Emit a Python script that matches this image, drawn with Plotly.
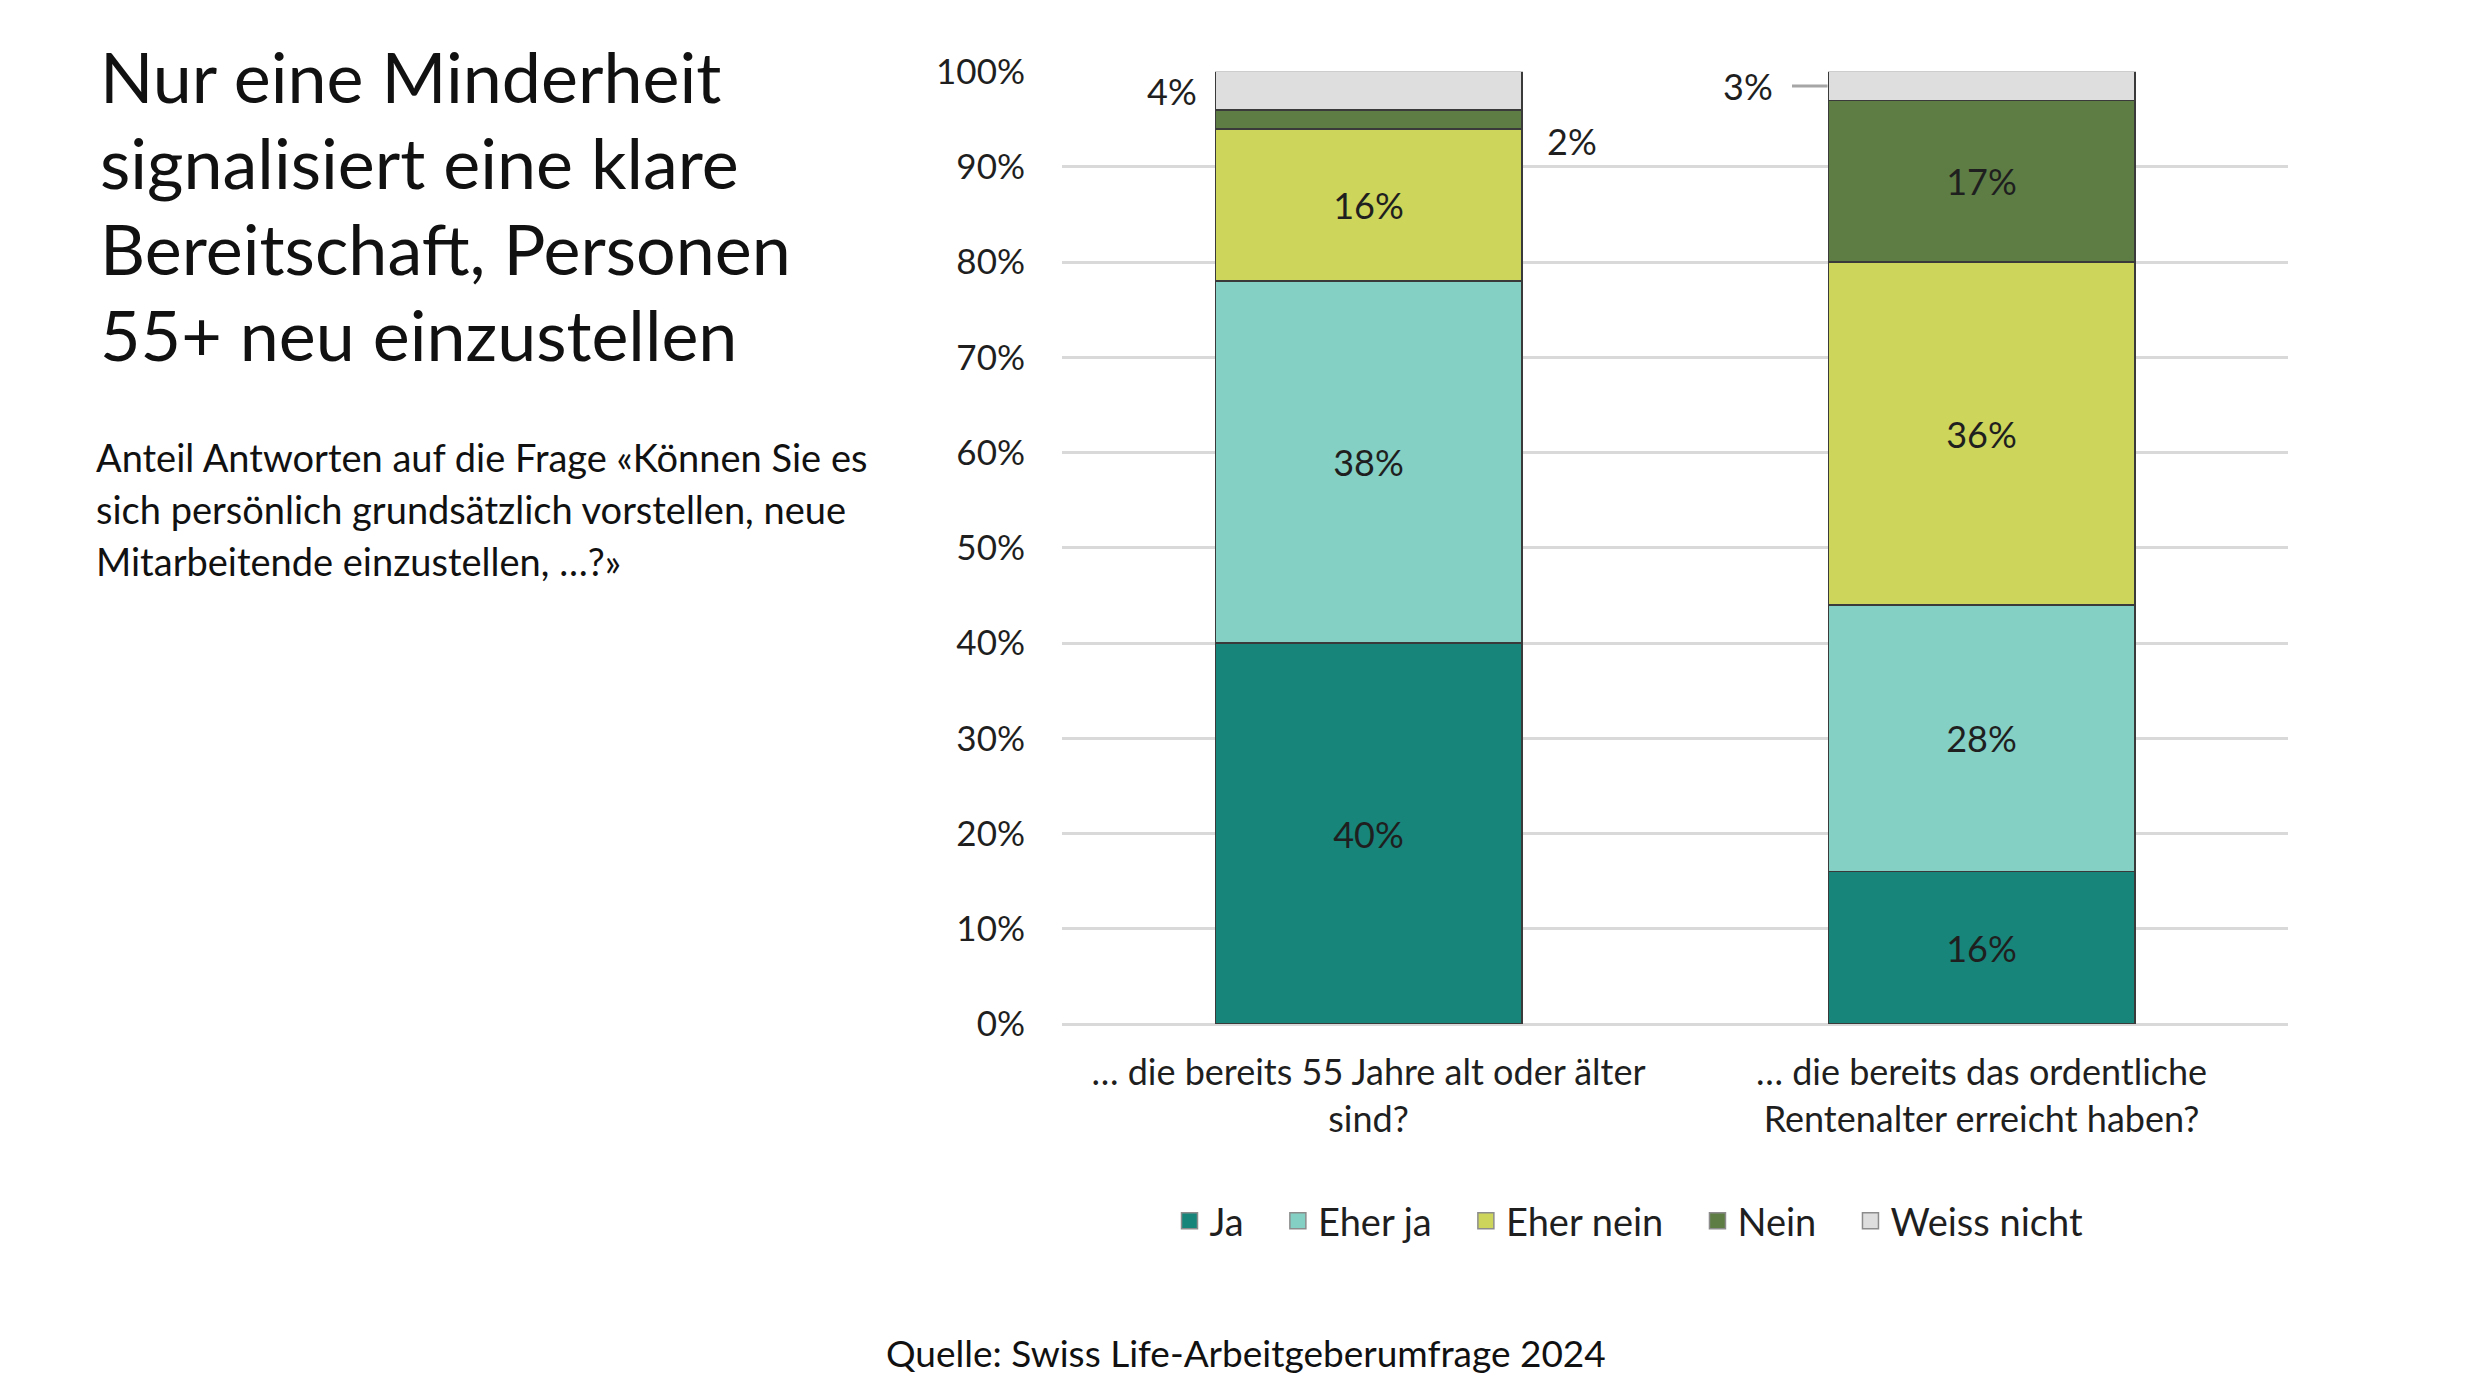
import plotly.graph_objects as go

# Survey question categories (x axis)
categories = [
    "… die bereits 55 Jahre alt oder älter<br>sind?",
    "… die bereits das ordentliche<br>Rentenalter erreicht haben?",
]

# Answer shares in percent, bottom to top
ja = [40, 16]
eher_ja = [38, 28]
eher_nein = [16, 36]
nein = [2, 17]
weiss_nicht = [4, 3]

series_names = ["Ja", "Eher ja", "Eher nein", "Nein", "Weiss nicht"]
series_values = [ja, eher_ja, eher_nein, nein, weiss_nicht]
series_colors = ["#17857A", "#84D0C4", "#CDD55A", "#5E7D45", "#DEDEDE"]

y_ticks = [0, 10, 20, 30, 40, 50, 60, 70, 80, 90, 100]
y_tick_labels = [f"{v}%" for v in y_ticks]

title_lines = [
    "Nur eine Minderheit",
    "signalisiert eine klare",
    "Bereitschaft, Personen",
    "55+ neu einzustellen",
]
subtitle_lines = [
    "Anteil Antworten auf die Frage «Können Sie es",
    "sich persönlich grundsätzlich vorstellen, neue",
    "Mitarbeitende einzustellen, …?»",
]
source_text = "Quelle: Swiss Life-Arbeitgeberumfrage 2024"

FONT = "Lato, 'Open Sans', sans-serif"
TEXT_COLOR = "#1f1f1f"
W, H = 2480, 1395

fig = go.Figure()

for name, vals, color in zip(series_names, series_values, series_colors):
    # small shares get their labels outside the bar (annotations below)
    labels = [f"{v}%" if v >= 10 else "" for v in vals]
    fig.add_trace(go.Bar(
        x=categories,
        y=vals,
        name=name,
        showlegend=False,
        marker=dict(color=color, line=dict(color="#3a3a3a", width=1.5)),
        text=labels,
        textposition="inside",
        insidetextanchor="middle",
        textangle=0,
        textfont=dict(family=FONT, size=36, color=TEXT_COLOR),
        hoverinfo="skip",
    ))

# legend entries with bigger square swatches than the bar default;
# trailing no-break spaces widen the gap after each entry like the original
for i, (name, color) in enumerate(zip(series_names, series_colors)):
    pad = "\u00a0" * 3 if i < len(series_names) - 1 else ""
    fig.add_trace(go.Scatter(
        x=[None], y=[None], mode="markers", name=name + pad,
        marker=dict(symbol="square", size=16, color=color,
                    line=dict(color="#8c8c8c", width=1.5)),
        hoverinfo="skip",
    ))

# Outside labels for the thin segments: (series index, category index, side, y shift, leader line)
outside_labels = [
    (4, 0, "left", 0, False),
    (3, 0, "right", -22, False),
    (4, 1, "left", 0, True),
]
half_bar_px = 153

for s_idx, c_idx, side, yshift, leader in outside_labels:
    below = sum(series_values[i][c_idx] for i in range(s_idx))
    val = series_values[s_idx][c_idx]
    y_mid = below + val / 2
    label = f"{val}%"
    if leader:
        fig.add_annotation(
            x=categories[c_idx], y=y_mid, xref="x", yref="y",
            xshift=-(half_bar_px + 1), text=label,
            showarrow=True, arrowhead=0, arrowwidth=3, arrowcolor="#A6A6A6",
            ax=-80, ay=0, startstandoff=18,
            font=dict(family=FONT, size=36, color=TEXT_COLOR),
        )
    else:
        shift = -(half_bar_px + 17) if side == "left" else (half_bar_px + 23)
        fig.add_annotation(
            x=categories[c_idx], y=y_mid, xref="x", yref="y",
            xshift=shift, yshift=yshift, text=label, showarrow=False,
            xanchor="right" if side == "left" else "left",
            font=dict(family=FONT, size=36, color=TEXT_COLOR),
        )

# Title and subtitle, one annotation per line to control the line spacing
for i, line in enumerate(title_lines):
    fig.add_annotation(
        x=98 / W, y=1 - (76 + i * 86) / H, xref="paper", yref="paper",
        text=line, showarrow=False, xanchor="left", yanchor="middle",
        font=dict(family=FONT, size=70, color="#111111"),
    )
for i, line in enumerate(subtitle_lines):
    fig.add_annotation(
        x=94 / W, y=1 - (457 + i * 52) / H, xref="paper", yref="paper",
        text=line, showarrow=False, xanchor="left", yanchor="middle",
        font=dict(family=FONT, size=38, color="#111111"),
    )
fig.add_annotation(
    x=1246 / W, y=1 - 1352 / H, xref="paper", yref="paper",
    text=source_text, showarrow=False, xanchor="center", yanchor="middle",
    font=dict(family=FONT, size=37, color="#111111"),
)

fig.update_layout(
    width=W,
    height=H,
    barmode="stack",
    bargap=0.5,
    plot_bgcolor="white",
    paper_bgcolor="white",
    margin=dict(l=0, r=0, t=0, b=0, autoexpand=False),
    font=dict(family=FONT, size=36, color=TEXT_COLOR),
    showlegend=True,
    legend=dict(
        orientation="h",
        x=1629 / W, y=1 - 1221 / H,
        xanchor="center", yanchor="middle",
        traceorder="normal",
        itemwidth=30,
        font=dict(family=FONT, size=38, color=TEXT_COLOR),
    ),
    xaxis=dict(
        domain=[1062 / W, 2288 / W],
        range=[-0.5, 1.5],
        automargin=False,
        showgrid=False,
        showline=False,
        ticks="",
        ticklabelstandoff=24,
        tickfont=dict(family=FONT, size=36, color=TEXT_COLOR),
        fixedrange=True,
    ),
    yaxis=dict(
        domain=[1 - 1024 / H, 1 - 71.7 / H],
        range=[0, 100],
        automargin=False,
        tickvals=y_ticks,
        ticktext=y_tick_labels,
        showgrid=True,
        gridcolor="#D9D9D9",
        gridwidth=3,
        zeroline=True,
        zerolinecolor="#D9D9D9",
        zerolinewidth=3,
        showline=False,
        ticks="",
        ticklabelstandoff=36,
        tickfont=dict(family=FONT, size=35, color=TEXT_COLOR),
        fixedrange=True,
    ),
)

# the page body has a default 8px margin; drop it so the figure sits at the window origin
fig.write_html(
    "out.html",
    config={"displayModeBar": False},
    post_script="document.body.style.margin = '0px';",
)
